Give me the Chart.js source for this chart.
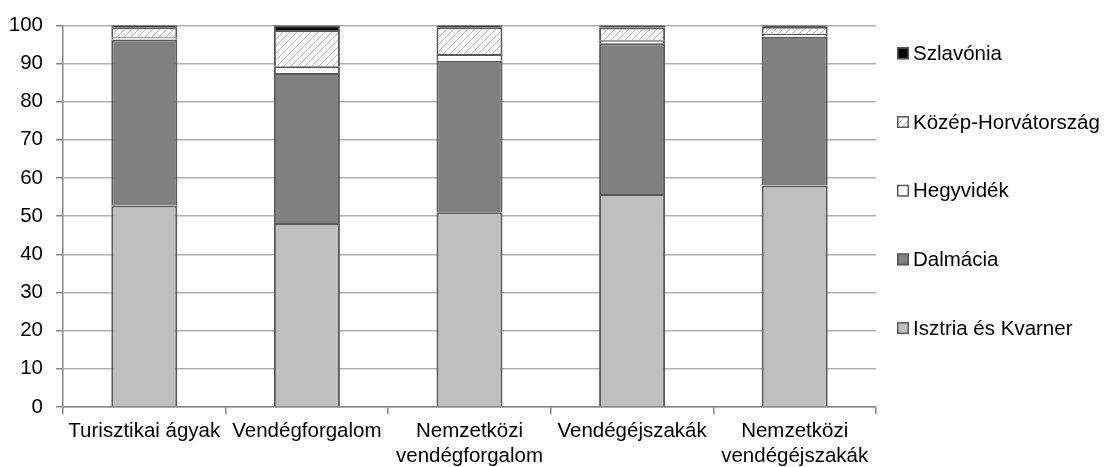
<!DOCTYPE html>
<html lang="hu">
<head>
<meta charset="UTF-8">
<title>Régiók megoszlása</title>
<script src="https://cdn.jsdelivr.net/npm/chart.js"></script>
<style>
  body { margin: 0; background: #fff; }
</style>
</head>
<body>
<canvas id="myChart" width="1110" height="467"></canvas>
<script>
// Adatok (%)
const categories = ['Turisztikai ágyak', 'Vendégforgalom', ['Nemzetközi', 'vendégforgalom'], 'Vendégéjszakák', ['Nemzetközi', 'vendégéjszakák']];
const isztria   = [52.8, 48.2, 51.0, 55.8, 58.0];
const dalmacia  = [43.5, 39.3, 39.7, 39.5, 39.0];
const hegyvidek = [0.6, 1.8, 1.8, 0.8, 0.8];
const kozep     = [2.6, 9.5, 7.0, 3.3, 1.8];
const szlavonia = [0.5, 1.2, 0.5, 0.6, 0.4];
const yTicks = [0, 10, 20, 30, 40, 50, 60, 70, 80, 90, 100];

// sraffozott minta
function hatch() {
    const c = document.createElement('canvas');
    c.width = 7; c.height = 7;
    const x = c.getContext('2d');
    x.fillStyle = '#fff';
    x.fillRect(0, 0, 7, 7);
    x.strokeStyle = '#b4b4b4';
    x.lineWidth = 1;
    x.beginPath();
    x.moveTo(-1, 8); x.lineTo(8, -1);
    x.stroke();
    return x.createPattern(c, 'repeat');
}
const hatchFill = hatch();

const ctx = document.getElementById('myChart').getContext('2d');
const border = '#595959';
const font = { family: 'Liberation Sans, Arial, sans-serif', size: 20.5, lineHeight: 1.2 };

const sideLegend = {
    id: 'sideLegend',
    afterDraw(chart) {
        const c = chart.ctx;
        const area = chart.chartArea;
        const ds = chart.data.datasets.slice().reverse();
        c.save();
        c.font = '20.5px Liberation Sans, Arial, sans-serif';
        c.textBaseline = 'middle';
        ds.forEach(function(d, i) {
            const y = area.top + 28 + i * 68.7;
            const x = area.right + 21;
            c.fillStyle = d.backgroundColor;
            c.fillRect(x, y - 6, 12, 12);
            c.strokeStyle = border;
            c.lineWidth = 1.5;
            c.strokeRect(x + 0.75, y - 5.25, 10.5, 10.5);
            c.fillStyle = '#000';
            c.fillText(d.label, x + 16, y + 1);
        });
        c.restore();
    }
};

function ds(label, data, color) {
    return { label: label, data: data, backgroundColor: color, borderColor: border, borderWidth: 2 };
}

new Chart(ctx, {
    type: 'bar',
    data: {
        labels: categories,
        datasets: [
            ds('Isztria és Kvarner', isztria, '#bfbfbf'),
            ds('Dalmácia', dalmacia, '#808080'),
            ds('Hegyvidék', hegyvidek, '#ffffff'),
            ds('Közép-Horvátország', kozep, hatchFill),
            ds('Szlavónia', szlavonia, '#000000')
        ]
    },
    options: {
        responsive: false,
        animation: false,
        datasets: { bar: { categoryPercentage: 1, barPercentage: 0.406 } },
        layout: { padding: { top: 19, right: 234, left: 0, bottom: 0 } },
        plugins: { legend: { display: false }, tooltip: { enabled: false } },
        scales: {
            x: {
                stacked: true,
                afterFit: function(s) { s.height = 60; },
                grid: { offset: true, drawOnChartArea: false, drawTicks: true, tickLength: 7, color: '#868686', lineWidth: 1.5 },
                border: { color: '#868686', width: 1.5 },
                ticks: { color: '#000', font: font, maxRotation: 0, autoSkip: false, padding: 5 }
            },
            y: {
                stacked: true,
                min: 0, max: 100,
                afterFit: function(s) { s.width = 63; },
                afterBuildTicks: function(axis) { axis.ticks = yTicks.map(v => ({ value: v })); },
                grid: { color: '#b0b0b0', lineWidth: 1.5, tickLength: 7, tickColor: '#868686' },
                border: { color: '#868686', width: 1.5 },
                ticks: { color: '#000', font: font, padding: 13 }
            }
        }
    },
    plugins: [sideLegend]
});
</script>
</body>
</html>
